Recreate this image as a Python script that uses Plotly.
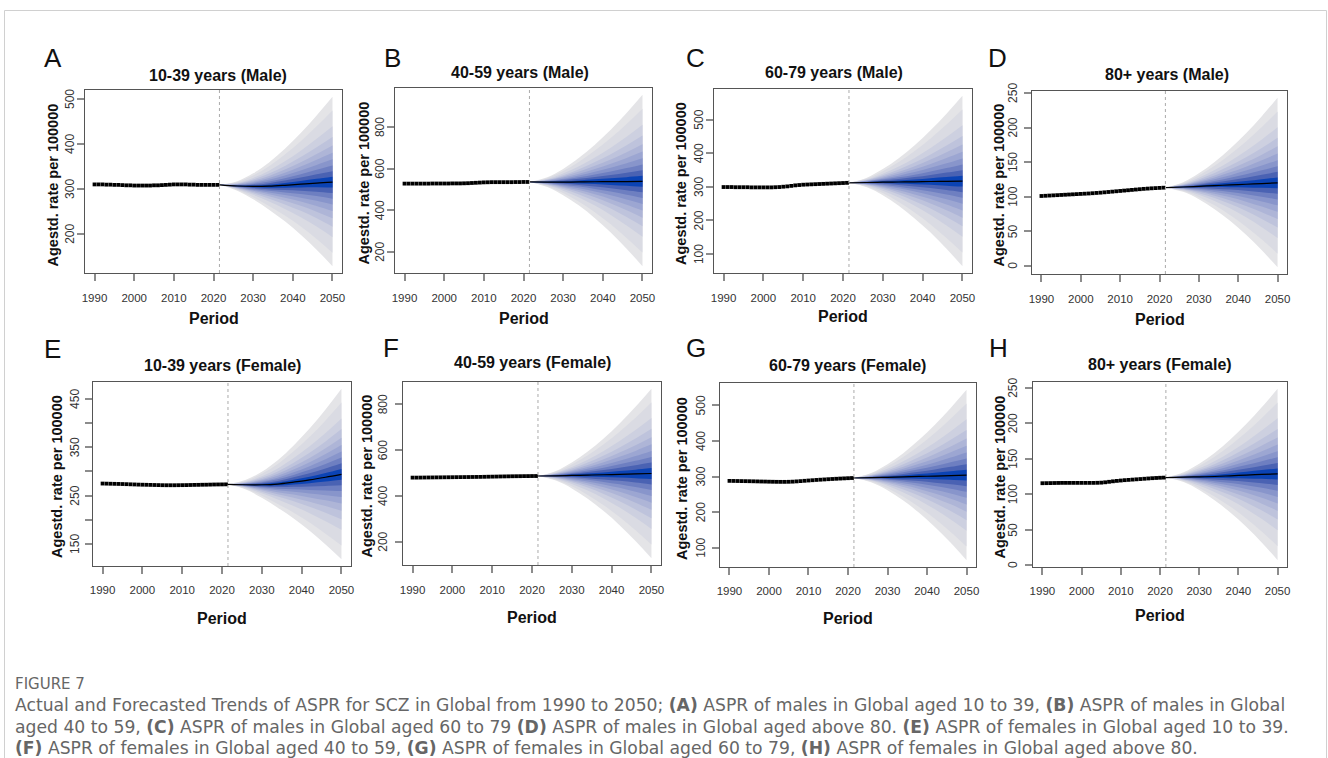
import plotly.graph_objects as go

W, H = 1328, 758

# ---------------- data ----------------
years_hist = list(range(1990, 2022))
fc_years = [2021.5, 2026, 2030, 2034, 2038, 2042, 2046, 2050]
forecast_start = 2021.5
x_ticks = [1990, 2000, 2010, 2020, 2030, 2040, 2050]

letters = ["A", "B", "C", "D", "E", "F", "G", "H"]
titles = ["10-39 years (Male)", "40-59 years (Male)", "60-79 years (Male)", "80+ years (Male)",
          "10-39 years (Female)", "40-59 years (Female)", "60-79 years (Female)", "80+ years (Female)"]

hist_A = [310, 310, 310, 309.5, 309.5, 309, 309, 308.5, 308, 308,
          307.5, 307.5, 307.5, 307.5, 307.5, 308, 308, 308.5, 309, 309.5,
          310, 310, 310, 310, 309.5, 309.5, 309, 309, 309, 309, 309, 309]
hist_B = [528, 528, 528, 528, 528, 528, 528, 528.5, 528.5, 528.5,
          528.5, 528.5, 529, 529, 529, 529.5, 530, 531, 532, 533,
          534, 534.5, 535, 535, 535, 535, 535, 535, 535.5, 535.5, 536, 536]
hist_C = [299.5, 299.5, 299.5, 299, 299, 299, 299, 298.5, 298.5, 298.5,
          298.5, 298.5, 298.5, 299, 299.5, 300.5, 301.5, 303, 304.5, 305.5,
          306.5, 307, 307.5, 308, 308.5, 309, 309.5, 310, 310.5, 311, 311.5, 312]
hist_D = [101, 101.3, 101.6, 101.9, 102.2, 102.5, 102.8, 103.1, 103.4, 103.7,
          104, 104.3, 104.6, 105, 105.4, 105.8, 106.3, 106.8, 107.3, 107.8,
          108.3, 108.8, 109.3, 109.8, 110.3, 110.8, 111.3, 111.7, 112.1, 112.4, 112.7, 113]
hist_E = [275, 274.8, 274.6, 274.4, 274.2, 274, 273.7, 273.4, 273.1, 272.8,
          272.6, 272.4, 272.2, 272, 271.8, 271.6, 271.5, 271.5, 271.5, 271.6,
          271.7, 271.8, 272, 272.2, 272.3, 272.5, 272.6, 272.8, 273, 273.1, 273.2, 273.3]
hist_F = [480, 480, 480.2, 480.4, 480.6, 480.8, 481, 481.2, 481.4, 481.6,
          481.8, 482, 482.2, 482.4, 482.6, 482.8, 483, 483.3, 483.6, 484,
          484.3, 484.6, 485, 485.3, 485.6, 485.9, 486.1, 486.3, 486.5, 486.7, 486.9, 487]
hist_G = [288, 287.8, 287.6, 287.4, 287.2, 287, 286.8, 286.5, 286.2, 286,
          285.7, 285.5, 285.3, 285.2, 285.2, 285.4, 285.8, 286.5, 287.3, 288.2,
          289, 289.8, 290.6, 291.3, 292, 292.7, 293.3, 293.9, 294.5, 295, 295.5, 296]
hist_H = [115.5, 115.6, 115.7, 115.8, 115.9, 116, 116, 116, 116, 116,
          116, 116, 116, 116, 116.1, 116.3, 116.8, 117.5, 118.2, 118.8,
          119.3, 119.8, 120.2, 120.6, 121, 121.4, 121.8, 122.2, 122.6, 122.9, 123.2, 123.4]

# forecast median and outer (widest) band, at fc_years
med_A = [309, 306.5, 305.5, 306, 308, 310.5, 313, 315]
up_A = [309, 317.3, 334.6, 359, 389.5, 424.5, 463.5, 505]
lo_A = [309, 295.8, 276.9, 253.8, 227.8, 198.3, 164.9, 128]

med_B = [536, 535, 535, 536, 537, 537.5, 538, 539]
up_B = [536, 558.7, 598.6, 652.1, 715.5, 787.1, 867.5, 955]
lo_B = [536, 511.7, 472.6, 422.2, 362, 292.7, 214.9, 131]

med_C = [312, 313, 314, 314.5, 315, 316, 316.5, 317]
up_C = [312, 327.5, 352.9, 385.4, 424, 468.4, 517.7, 571]
lo_C = [312, 298.6, 275.2, 243.8, 206.2, 163.9, 115.7, 64]

med_D = [113, 114, 115, 116, 117, 118, 119, 120]
up_D = [113, 121, 133.8, 150.3, 169.8, 191.8, 216.4, 243]
lo_D = [113, 107, 96.3, 82, 64.7, 44.8, 22.4, -2]

med_E = [273.3, 272.5, 272.5, 274, 278, 282.5, 288, 294]
up_E = [273.3, 282.6, 299.6, 323.4, 353.9, 388.7, 428.2, 471]
lo_E = [273.3, 262.5, 245.6, 225, 202.7, 177.2, 149, 118.5]

med_F = [487, 488, 489.5, 491, 492.5, 494.5, 496, 498]
up_F = [487, 509.1, 546.1, 594.2, 651.2, 716.5, 789, 868]
lo_F = [487, 466.9, 432.9, 387.8, 333.8, 272.5, 203, 128]

med_G = [296, 297, 298, 299, 300.5, 301.5, 303, 304]
up_G = [296, 310.7, 334.7, 366, 403.5, 445.5, 493.1, 544]
lo_G = [296, 283.4, 261.6, 232.5, 198.2, 158.4, 114.1, 65]

med_H = [123.4, 124, 124.5, 125, 126, 127, 128, 128.7]
up_H = [123.4, 130.8, 142.8, 158.5, 177.4, 198.9, 222.9, 248.6]
lo_H = [123.4, 117.1, 105.9, 91, 73.8, 54, 31.6, 7]

# relative width of each fan band (outer -> inner)
band_scale = [1.0, 0.839, 0.654, 0.529, 0.429, 0.344, 0.267, 0.196, 0.129, 0.064]

yticks_A = [200, 300, 400, 500]
yticks_B = [200, 400, 600, 800]
yticks_C = [100, 200, 300, 400, 500]
yticks_D = [0, 50, 100, 150, 200, 250]
yticks_E = [150, 200, 250, 300, 350, 400, 450]
ylabels_E = ["150", "", "250", "", "350", "", "450"]
yticks_F = [200, 400, 600, 800]
yticks_G = [100, 200, 300, 400, 500]
yticks_H = [0, 50, 100, 150, 200, 250]

caption_head = "FIGURE 7"
caption_lines = [
    "Actual and Forecasted Trends of ASPR for SCZ in Global from 1990 to 2050; <b>(A)</b> ASPR of males in Global aged 10 to 39, <b>(B)</b> ASPR of males in Global",
    "aged 40 to 59, <b>(C)</b> ASPR of males in Global aged 60 to 79 <b>(D)</b> ASPR of males in Global aged above 80. <b>(E)</b> ASPR of females in Global aged 10 to 39.",
    "<b>(F)</b> ASPR of females in Global aged 40 to 59, <b>(G)</b> ASPR of females in Global aged 60 to 79, <b>(H)</b> ASPR of females in Global aged above 80.",
]

# ---------------- styling / layout ----------------
band_colors = ["#E4E4E7", "#DADBE3", "#CDD0E0", "#BEC3DC", "#AEB5D7",
               "#9CA6D2", "#8895CB", "#6E7FC1", "#4A62B3", "#0B43B4"]

panels = [
    dict(hist=hist_A, med=med_A, up=up_A, lo=lo_A, yt=yticks_A, yl=None,
         box=(85, 342, 90, 273), title=(218, 75), letter=(53, 58), ylab=53, per=318, yoff=15, xstand=7),
    dict(hist=hist_B, med=med_B, up=up_B, lo=lo_B, yt=yticks_B, yl=None,
         box=(395, 652, 88, 273), title=(520, 73), letter=(392, 58), ylab=363, per=318, yoff=15, xstand=7),
    dict(hist=hist_C, med=med_C, up=up_C, lo=lo_C, yt=yticks_C, yl=None,
         box=(714, 972, 89, 273), title=(834, 73), letter=(695, 58), ylab=681, per=316, yoff=15, xstand=7),
    dict(hist=hist_D, med=med_D, up=up_D, lo=lo_D, yt=yticks_D, yl=None,
         box=(1032, 1287, 91, 274), title=(1167, 74), letter=(997, 58), ylab=998, per=319, yoff=19, xstand=7),
    dict(hist=hist_E, med=med_E, up=up_E, lo=lo_E, yt=yticks_E, yl=ylabels_E,
         box=(93, 351, 382, 566), title=(222, 365), letter=(53, 349), ylab=57, per=618, yoff=18, xstand=6),
    dict(hist=hist_F, med=med_F, up=up_F, lo=lo_F, yt=yticks_F, yl=None,
         box=(403, 661, 382, 565), title=(532, 363), letter=(391, 348), ylab=367, per=617, yoff=20, xstand=7),
    dict(hist=hist_G, med=med_G, up=up_G, lo=lo_G, yt=yticks_G, yl=None,
         box=(720, 976, 383, 567), title=(848, 365), letter=(696, 348), ylab=682, per=618, yoff=19, xstand=6),
    dict(hist=hist_H, med=med_H, up=up_H, lo=lo_H, yt=yticks_H, yl=None,
         box=(1033, 1287, 382, 567), title=(1160, 364), letter=(998, 348), ylab=999, per=615, yoff=20, xstand=6),
]

FONT = "Liberation Sans, Arial, sans-serif"
CAPFONT = "DejaVu Sans, Verdana, sans-serif"

fig = go.Figure()
annotations = []
shapes = []
layout_axes = {}

def px(x):
    return x / W

def py(y):
    return 1 - y / H

for i, p in enumerate(panels):
    n = i + 1
    xa = "x" if n == 1 else f"x{n}"
    ya = "y" if n == 1 else f"y{n}"
    med, up, lo = p["med"], p["up"], p["lo"]

    for k, s in enumerate(band_scale):
        upper = [m + s * (u - m) for m, u in zip(med, up)]
        lower = [m - s * (m - l) for m, l in zip(med, lo)]
        fig.add_trace(go.Scatter(x=fc_years, y=lower, mode="lines",
                                 line=dict(width=0, shape="spline", color=band_colors[k]),
                                 xaxis=xa, yaxis=ya, hoverinfo="skip", showlegend=False))
        fig.add_trace(go.Scatter(x=fc_years, y=upper, mode="lines",
                                 line=dict(width=0, shape="spline", color=band_colors[k]),
                                 fill="tonexty", fillcolor=band_colors[k],
                                 xaxis=xa, yaxis=ya, hoverinfo="skip", showlegend=False))
    fig.add_trace(go.Scatter(x=fc_years, y=med, mode="lines",
                             line=dict(width=1.2, color="black", shape="spline"),
                             xaxis=xa, yaxis=ya, hoverinfo="skip", showlegend=False))
    fig.add_trace(go.Scatter(x=years_hist, y=p["hist"], mode="markers",
                             marker=dict(size=3.8, color="black", symbol="square", line=dict(width=0)),
                             xaxis=xa, yaxis=ya, hoverinfo="skip", showlegend=False))

    lo_v, hi_v = min(lo), max(up)
    pad = 0.04 * (hi_v - lo_v)
    x0p, x1p, y0p, y1p = p["box"]
    axis_common = dict(showgrid=False, zeroline=False, showline=True, mirror=True,
                       linecolor="#555555", linewidth=1, ticks="outside", ticklen=7,
                       tickwidth=1.6, tickcolor="#8c8c8c", automargin=False)
    layout_axes["xaxis" if n == 1 else f"xaxis{n}"] = dict(
        axis_common, domain=[px(x0p), px(x1p)], anchor=ya, range=[1987.6, 2052.4],
        tickvals=x_ticks, ticktext=[str(v) for v in x_ticks],
        tickfont=dict(family=FONT, size=11.5, color="#333333"), ticklabelstandoff=p["xstand"])
    layout_axes["yaxis" if n == 1 else f"yaxis{n}"] = dict(
        axis_common, domain=[py(y1p), py(y0p)], anchor=xa, range=[lo_v - pad, hi_v + pad],
        tickvals=p["yt"], showticklabels=False)

    # rotated y tick labels (R style, reading upwards)
    ytext = p["yl"] if p["yl"] else [str(v) for v in p["yt"]]
    for v, t in zip(p["yt"], ytext):
        if t:
            annotations.append(dict(x=px(x0p - p["yoff"]), y=v, xref="paper", yref=ya, text=t,
                                    textangle=-90, showarrow=False, xanchor="center", yanchor="middle",
                                    font=dict(family=FONT, size=12, color="#333333")))

    shapes.append(dict(type="line", xref=xa, yref=f"{ya} domain", x0=forecast_start, x1=forecast_start,
                       y0=0, y1=1, line=dict(color="#aaaaaa", width=1, dash="3px,3px")))

    tx, ty = p["title"]
    annotations.append(dict(x=px(tx), y=py(ty), xref="paper", yref="paper", text=f"<b>{titles[i]}</b>",
                            showarrow=False, xanchor="center", yanchor="middle",
                            font=dict(family=FONT, size=16, color="#111111")))
    lx, ly = p["letter"]
    annotations.append(dict(x=px(lx), y=py(ly), xref="paper", yref="paper", text=letters[i],
                            showarrow=False, xanchor="center", yanchor="middle",
                            font=dict(family=FONT, size=26, color="#111111")))
    annotations.append(dict(x=px(p["ylab"]), y=py((y0p + y1p) / 2 + 3), xref="paper", yref="paper",
                            text="<b>Agestd. rate per 100000</b>", textangle=-90,
                            showarrow=False, xanchor="center", yanchor="middle",
                            font=dict(family=FONT, size=14.5, color="#111111")))
    annotations.append(dict(x=px((x0p + x1p) / 2), y=py(p["per"]), xref="paper", yref="paper",
                            text="<b>Period</b>", showarrow=False, xanchor="center", yanchor="middle",
                            font=dict(family=FONT, size=16, color="#111111")))

# caption
annotations.append(dict(x=px(13), y=py(684), xref="paper", yref="paper", text=caption_head,
                        showarrow=False, xanchor="left", yanchor="middle",
                        font=dict(family=CAPFONT, size=15, color="#666666")))
for j, line in enumerate(caption_lines):
    annotations.append(dict(x=px(13), y=py(705 + 21.5 * j), xref="paper", yref="paper", text=line,
                            showarrow=False, xanchor="left", yanchor="middle",
                            font=dict(family=CAPFONT, size=17.2, color="#666666")))

# outer frame
shapes.append(dict(type="rect", xref="paper", yref="paper", x0=px(4.5), x1=px(1326.5),
                   y0=-0.05, y1=py(10.5), line=dict(color="#d0d0d0", width=1), fillcolor="rgba(0,0,0,0)"))

fig.update_layout(template="none", width=W, height=H, margin=dict(l=0, r=0, t=0, b=0, pad=0),
                  autosize=False,
                  paper_bgcolor="white", plot_bgcolor="white", showlegend=False,
                  annotations=annotations, shapes=shapes, **layout_axes)

fig.write_html("out.html", config={"displayModeBar": False},
               post_script="document.body.style.margin='0px';document.body.style.padding='0px';document.body.style.overflow='hidden';")
